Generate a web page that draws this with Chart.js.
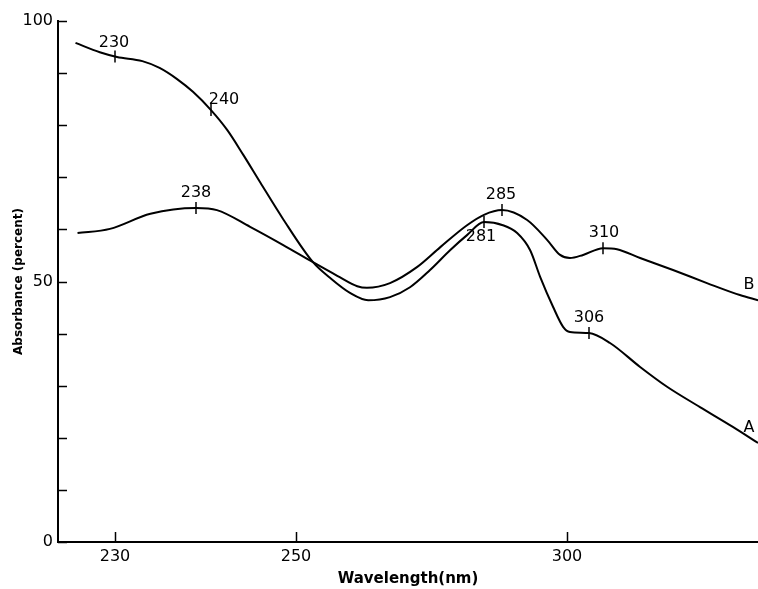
<!DOCTYPE html>
<html>
<head>
<meta charset="utf-8">
<script src="https://cdn.jsdelivr.net/npm/chart.js@4"></script>
<style>
  html, body { margin: 0; padding: 0; background: #fff; }
  #chart { display: block; }
</style>
</head>
<body>
<canvas id="chart" width="758" height="589"></canvas>
<script>
// curve A (starts high at short wavelength, ends low)
const wavelengthA = [226.1, 228.5, 230.2, 232.7, 234.4, 236.1, 237.7, 240, 241.9, 243.8, 245.8, 248.4, 252.8, 255.6, 258.9, 261.9, 265.5, 268.8, 272.1, 275.4, 278.2, 281, 285.2, 288.5, 291.5, 293.8, 296.8, 299.1, 300.8, 306, 312, 320.6, 328.3, 337.7, 347.1, 354.3];
const absorbA = [95.8, 94.0, 93.1, 92.3, 91.0, 88.9, 86.4, 82.9, 79.1, 74.3, 69.0, 62.2, 53.7, 50.7, 47.8, 46.4, 47.0, 48.9, 52.2, 56.0, 58.9, 61.4, 60.8, 59.3, 56.0, 50.9, 45.1, 41.3, 40.3, 40.1, 38.2, 33.6, 29.8, 25.9, 22.1, 19.0];

// curve B
const wavelengthB = [226.3, 229.5, 233.5, 238, 240.7, 244.6, 248.5, 252.8, 256.8, 260.1, 261.7, 265.5, 270, 273.8, 278.2, 281, 285, 290.8, 295.4, 298.4, 300.8, 304.4, 310, 314, 320.6, 330, 339.7, 349.1, 354.3];
const absorbB = [59.3, 60.1, 63.0, 64.1, 63.7, 60.5, 57.0, 53.7, 51.1, 49.1, 48.8, 49.7, 52.8, 56.6, 60.8, 62.8, 63.7, 61.8, 58.0, 55.1, 54.5, 55.1, 56.4, 56.2, 54.5, 52.2, 49.7, 47.4, 46.4];

// marked band positions
const peakLabels = ['230', '240', '281', '306', '238', '285', '310'];
const peakX = [230, 240, 281, 306, 238, 285, 310];
const peakY = [93.2, 82.9, 61.4, 40.1, 64.1, 63.7, 56.4];

const xTicks = [230, 250, 300];
const curveNames = ['A', 'B'];

// the printed wavelength axis is not linear: read where each wavelength sits on it
const knotNm = [230, 238, 240, 250, 281, 285, 300, 306, 310];
const knotPx = [115, 196, 211, 296, 484, 502, 567, 589, 603];
const REF_LEFT = 58, REF_RIGHT = 758;

function toRef(v) {
    let i = 1;
    while (i < knotNm.length - 1 && v > knotNm[i]) i++;
    const t = (v - knotNm[i - 1]) / (knotNm[i] - knotNm[i - 1]);
    return knotPx[i - 1] + t * (knotPx[i] - knotPx[i - 1]);
}
function fromRef(p) {
    let i = 1;
    while (i < knotPx.length - 1 && p > knotPx[i]) i++;
    const t = (p - knotPx[i - 1]) / (knotPx[i] - knotPx[i - 1]);
    return knotNm[i - 1] + t * (knotNm[i] - knotNm[i - 1]);
}

class PrintedScale extends Chart.LinearScale {
    getPixelForValue(value) {
        return this.getPixelForDecimal((toRef(value) - REF_LEFT) / (REF_RIGHT - REF_LEFT));
    }
    getValueForPixel(pixel) {
        return fromRef(REF_LEFT + this.getDecimalForPixel(pixel) * (REF_RIGHT - REF_LEFT));
    }
}
PrintedScale.id = 'printed';
PrintedScale.defaults = Chart.LinearScale.defaults;
Chart.register(PrintedScale);

Chart.defaults.font.family = '"DejaVu Sans", sans-serif';
Chart.defaults.color = '#000';

// label offsets from the marked point
const peakOffsets = [[-1, -14], [13, -10], [-3, 15], [0, -15], [0, -15], [-1, -15], [1, -15]];

const marks = {
    id: 'marks',
    afterDatasetsDraw(chart) {
        const {ctx, chartArea: a, scales: {x, y}} = chart;
        const base = Math.round(y.getPixelForValue(0));
        ctx.save();
        ctx.strokeStyle = '#000';
        ctx.lineWidth = 1.5;
        ctx.beginPath();
        xTicks.forEach(v => {
            const px = Math.round(x.getPixelForValue(v)) + 0.5;
            ctx.moveTo(px, base);
            ctx.lineTo(px, base - 10);
        });
        y.ticks.forEach(t => {
            const py = Math.round(y.getPixelForValue(t.value)) + 0.5;
            ctx.moveTo(a.left, py);
            ctx.lineTo(a.left + 9, py);
        });
        ctx.stroke();

        ctx.fillStyle = '#000';
        ctx.font = '16px "DejaVu Sans"';
        ctx.textAlign = 'center';
        ctx.textBaseline = 'middle';
        peakLabels.forEach((s, i) => {
            const px = x.getPixelForValue(peakX[i]);
            const py = y.getPixelForValue(peakY[i]);
            ctx.fillText(s, px + peakOffsets[i][0], py + peakOffsets[i][1]);
        });

        // curve names near the right-hand ends
        curveNames.forEach((name, i) => {
            const pts = chart.getDatasetMeta(i).data;
            const last = pts[pts.length - 1];
            ctx.fillText(name, last.x - 9, last.y - 15);
        });
        ctx.restore();
    }
};

const toPoints = (xs, ys) => xs.map((v, i) => ({x: v, y: ys[i]}));

new Chart(document.getElementById('chart'), {
    type: 'line',
    data: {
        datasets: [
            {
                label: 'A',
                data: toPoints(wavelengthA, absorbA),
                borderColor: '#000',
                borderWidth: 2,
                pointRadius: 0,
                cubicInterpolationMode: 'monotone'
            },
            {
                label: 'B',
                data: toPoints(wavelengthB, absorbB),
                borderColor: '#000',
                borderWidth: 2,
                pointRadius: 0,
                cubicInterpolationMode: 'monotone'
            },
            {
                label: 'bands',
                data: toPoints(peakX, peakY),
                showLine: false,
                pointStyle: 'line',
                rotation: 90,
                pointRadius: 6,
                borderColor: '#000',
                borderWidth: 1.5
            }
        ]
    },
    options: {
        responsive: false,
        animation: false,
        layout: { autoPadding: false, padding: { top: 21, right: 0, left: 0, bottom: 0 } },
        plugins: {
            legend: { display: false },
            tooltip: { enabled: false }
        },
        scales: {
            x: {
                type: 'printed',
                min: 224,
                max: 356,
                bounds: 'data',
                afterBuildTicks: s => { s.ticks = xTicks.map(v => ({value: v})); },
                afterFit: s => { s.height = 47; s.paddingLeft = 0; s.paddingRight = 0; },
                grid: { display: false, drawTicks: false },
                border: { display: true, color: '#000', width: 2 },
                ticks: {
                    maxRotation: 0,
                    autoSkip: false,
                    padding: 5,
                    font: { size: 16 },
                    callback: v => String(v)
                },
                title: {
                    display: true,
                    text: 'Wavelength(nm)',
                    font: { size: 15, weight: 'bold' },
                    padding: { top: 0, bottom: 1 }
                }
            },
            y: {
                min: 0,
                max: 100,
                afterFit: s => { s.width = 58; },
                grid: { display: false, drawTicks: false },
                border: { display: true, color: '#000', width: 2 },
                ticks: {
                    stepSize: 10,
                    padding: 5,
                    font: { size: 16 },
                    callback: v => (v % 50 === 0 ? String(v) : '')
                },
                title: {
                    display: true,
                    text: 'Absorbance (percent)',
                    font: { size: 12, weight: 'bold' },
                    padding: { top: 12, bottom: 0 }
                }
            }
        }
    },
    plugins: [marks]
});
</script>
</body>
</html>
